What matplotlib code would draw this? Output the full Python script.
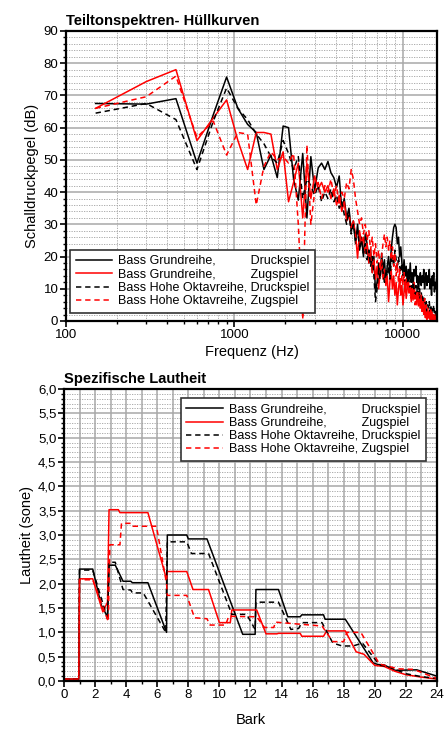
import numpy as np
from matplotlib import pyplot as plt
from matplotlib.ticker import FixedLocator, MultipleLocator, LogLocator, NullFormatter, FuncFormatter

plt.rcParams['font.family'] = ['Liberation Sans', 'DejaVu Sans']

# Teiltonspektren: Pegel der Teiltöne (Grundton 150 Hz, Teiltöne 1..106)
f0 = 150
teilton = np.arange(1, 107)
freq = f0 * teilton

grund_druck = [67.5, 67.3, 69, 49, 64, 75.7, 66, 61, 58.5, 47,
               51.5, 44.5, 60.5, 60, 44, 37.5, 52, 32, 51, 40.5,
               47.5, 49, 47, 49.5, 46, 44.5, 41.5, 45, 34.5, 38,
               32, 35, 28, 31, 24, 30, 22, 26, 20, 27,
               24, 18, 22, 15, 20, 9, 12, 18, 14, 21,
               16, 19, 12, 17, 20, 14, 22, 26, 29, 30,
               29, 24, 26, 20, 23, 18, 15, 19, 14, 17,
               12, 16, 13, 18, 12, 15, 11, 16, 14, 17,
               12, 14, 10, 13, 15, 11, 14, 12, 16, 10,
               13, 15, 11, 14, 12, 16, 10, 13, 8, 14,
               11, 15, 9, 12, 10, 13]
grund_zug = [66, 74.3, 78, 56, 63, 68.6, 56, 47, 58.5, 58.5,
             58, 47, 52.5, 37, 43, 49, 32, 49, 38, 45,
             41, 43, 40, 42, 38, 41, 36, 39, 34, 37,
             31, 33, 29, 31, 27, 19.5, 28, 24, 26, 21,
             24, 18, 22, 15, 19, 13, 17, 10, 15, 19,
             13, 16, 11, 14, 6, 12, 16, 10, 14, 8,
             12, 5, 10, 13, 8, 11, 5, 9, 12, 7,
             10, 13, 9, 11, 6, 10, 8, 12, 7, 9,
             5, 8, 6, 9, 4, 7, 3, 6, 2, 4,
             1, 3, 0.5, 2, 1, 3, 0.5, 2, 0.5, 1,
             0.5, 2, 0.5, 1, 0.5, 1]
oktav_druck = [64.5, 67.5, 62.5, 47, 62, 72.3, 66, 62.5, 58, 55,
               51, 49, 56, 52, 47, 51, 38, 44, 42, 39,
               42, 37, 40, 38, 41, 37, 39, 35, 37, 33,
               30, 34, 27, 30, 25, 28, 23, 25, 21, 24,
               19, 22, 17, 20, 14, 6, 10, 16, 13, 18,
               15, 12, 16, 14, 17, 13, 18, 20, 17, 22,
               19, 16, 20, 17, 15, 18, 14, 16, 12, 15,
               11, 14, 12, 10, 13, 9, 12, 10, 8, 11,
               9, 12, 8, 10, 7, 9, 6, 8, 5, 7,
               4, 6, 3, 5, 4, 6, 3, 5, 2, 4,
               3, 5, 2, 3, 1, 2]
oktav_zug = [66, 69.6, 76, 57, 62, 51.5, 58.5, 58, 36, 48,
             52.5, 50, 51, 49, 52, 30, 0.5, 54.6, 30, 40,
             43, 38, 42, 40, 44, 39, 42, 36, 40, 38,
             43, 41, 47, 44, 38, 34, 30, 32, 27, 30,
             25, 28, 22, 26, 20, 24, 18, 22, 16, 20,
             24, 27, 23, 26, 22, 25, 19, 23, 17, 21,
             14, 18, 12, 16, 10, 14, 11, 15, 9, 13,
             10, 12, 8, 11, 7, 10, 6, 9, 5, 8,
             6, 9, 4, 7, 5, 8, 3, 6, 4, 7,
             3, 5, 2, 4, 1, 3, 2, 4, 1, 3,
             1, 2, 0.5, 2, 1, 3]

# Spezifische Lautheit (Bark, sone) - Eckpunkte
bark_gd = [0, 0.95, 1.0, 1.85, 2.4, 2.8, 2.9, 3.3, 3.8, 4.3, 4.4, 5.4, 6.6, 6.65, 7.9, 8.0, 9.2, 11.5, 12.3, 12.35,
           13.8, 14.4, 15.2, 15.3, 16.7, 16.8, 18.1, 19.9, 20.2, 20.6, 21.3, 22.7, 24]
sone_gd = [0.04, 0.04, 2.3, 2.3, 1.56, 1.32, 2.38, 2.38, 2.05, 2.05, 2.02, 2.02, 1.0, 3.0, 3.0, 2.92, 2.92, 0.96, 0.96, 1.88,
           1.88, 1.32, 1.32, 1.36, 1.36, 1.27, 1.27, 0.37, 0.34, 0.33, 0.22, 0.23, 0.1]
bark_gz = [0, 0.95, 1.0, 1.85, 2.5, 2.8, 2.9, 3.5, 3.6, 5.4, 6.6, 6.65, 7.9, 8.3, 9.3, 10.0, 10.7, 10.8, 12.4, 13.0,
           13.7, 13.8, 15.2, 15.3, 16.7, 16.9, 18.1, 18.8, 19.3, 20.0, 20.6, 21.3, 22.0, 23.0, 24]
sone_gz = [0.04, 0.04, 2.1, 2.1, 1.42, 1.62, 3.52, 3.52, 3.46, 3.46, 2.09, 2.25, 2.25, 1.88, 1.88, 1.2, 1.2, 1.46, 1.46, 0.97,
           0.97, 0.98, 0.98, 0.92, 0.92, 1.03, 1.03, 0.6, 0.55, 0.32, 0.3, 0.2, 0.13, 0.08, 0.04]
bark_od = [0, 0.95, 1.0, 1.85, 2.8, 2.9, 3.3, 3.8, 4.3, 4.4, 5.1, 6.55, 6.65, 7.9, 8.2, 9.3, 10.8, 11.75, 12.3, 12.35,
           13.8, 14.6, 15.1, 15.3, 16.6, 17.3, 17.9, 18.6, 19.2, 20.3, 21.0, 22.0, 23.0, 24]
sone_od = [0.04, 0.04, 2.28, 2.28, 1.28, 2.44, 2.44, 1.88, 1.87, 1.81, 1.81, 1.0, 2.86, 2.86, 2.62, 2.62, 1.37, 1.37, 1.06, 1.62,
           1.62, 1.06, 1.08, 1.2, 1.2, 0.78, 0.72, 0.72, 0.78, 0.33, 0.28, 0.15, 0.09, 0.05]
bark_oz = [0, 0.95, 1.0, 1.85, 2.85, 2.95, 3.6, 3.7, 4.35, 4.45, 5.95, 6.6, 6.65, 7.9, 8.4, 9.2, 9.4, 10.4, 10.6, 12.4,
           12.9, 13.5, 13.6, 16.6, 17.3, 18.0, 18.2, 19.1, 20.3, 21.5, 22.5, 24]
sone_oz = [0.04, 0.04, 2.08, 2.08, 1.22, 2.8, 2.8, 3.24, 3.24, 3.18, 3.18, 2.0, 1.76, 1.76, 1.3, 1.28, 1.15, 1.15, 1.33, 1.32,
           1.1, 1.1, 1.21, 1.13, 0.81, 0.81, 1.0, 1.0, 0.35, 0.25, 0.24, 0.05]

labels = ['Bass Grundreihe,          Druckspiel',
          'Bass Grundreihe,          Zugspiel',
          'Bass Hohe Oktavreihe, Druckspiel',
          'Bass Hohe Oktavreihe, Zugspiel']

dash = (0, (3.5, 2.5))
lw = 1.1


def style_axes(ax):
    for s in ax.spines.values():
        s.set_linewidth(1.6)
    ax.grid(which='major', color='#a8a8a8', linewidth=1.1, linestyle='-')
    ax.grid(which='minor', color='#a0a0a0', linewidth=0.6, linestyle=(0, (1.5, 1.5)))
    ax.set_axisbelow(True)
    ax.tick_params(which='major', direction='out', length=4, width=1.2, labelsize=9.5, pad=1.5)
    ax.tick_params(which='minor', direction='out', length=2.2, width=1.0)


def legende(ax, **kw):
    leg = ax.legend(borderaxespad=0, fontsize=9, fancybox=False, framealpha=1,
                    edgecolor='#333333', handlelength=2.9, labelspacing=0.1,
                    borderpad=0.45, handletextpad=0.5, **kw)
    leg.get_frame().set_linewidth(1.2)
    return leg


fig = plt.figure(figsize=(4.44, 7.29), dpi=100)

# oberes Diagramm
ax1 = fig.add_axes([0.1486, 0.5597, 0.8356, 0.3978])
ax1.plot(freq, grund_druck, color='black', linewidth=lw, label=labels[0])
ax1.plot(freq, grund_zug, color='red', linewidth=lw, label=labels[1])
ax1.plot(freq, oktav_druck, color='black', linewidth=lw, linestyle=dash, label=labels[2])
ax1.plot(freq, oktav_zug, color='red', linewidth=lw, linestyle=dash, label=labels[3])
ax1.set_xscale('log')
ax1.set_xlim(100, 16000)
ax1.set_ylim(0, 90)
ax1.xaxis.set_major_locator(FixedLocator([100, 1000, 10000]))
ax1.xaxis.set_major_formatter(FuncFormatter(lambda v, p: '%d' % v))
ax1.xaxis.set_minor_locator(LogLocator(subs=range(2, 10)))
ax1.xaxis.set_minor_formatter(NullFormatter())
ax1.yaxis.set_major_locator(MultipleLocator(10))
ax1.yaxis.set_minor_locator(MultipleLocator(2))
style_axes(ax1)
ax1.set_xlabel('Frequenz (Hz)', fontsize=10.5, labelpad=3)
ax1.set_ylabel('Schalldruckpegel (dB)', fontsize=10.5, labelpad=3)
ax1.set_title('Teiltonspektren- Hüllkurven', fontsize=10.6, fontweight='bold', loc='left', pad=4)
legende(ax1, loc='lower left', bbox_to_anchor=(0.011, 0.028))

# unteres Diagramm
ax2 = fig.add_axes([0.1441, 0.0658, 0.8401, 0.4006])
ax2.plot(bark_gd, sone_gd, color='black', linewidth=lw, label=labels[0])
ax2.plot(bark_gz, sone_gz, color='red', linewidth=lw, label=labels[1])
ax2.plot(bark_od, sone_od, color='black', linewidth=lw, linestyle=dash, label=labels[2])
ax2.plot(bark_oz, sone_oz, color='red', linewidth=lw, linestyle=dash, label=labels[3])
ax2.set_xlim(0, 24)
ax2.set_ylim(0, 6)
ax2.xaxis.set_major_locator(MultipleLocator(2))
ax2.xaxis.set_minor_locator(MultipleLocator(1))
ax2.yaxis.set_major_locator(MultipleLocator(0.5))
ax2.yaxis.set_minor_locator(MultipleLocator(0.1))
ax2.yaxis.set_major_formatter(FuncFormatter(lambda v, p: ('%.1f' % v).replace('.', ',')))
style_axes(ax2)
ax2.grid(which='minor', axis='x', color='#a8a8a8', linewidth=1.1, linestyle='-')
ax2.set_xlabel('Bark', fontsize=10.5, labelpad=9)
ax2.set_ylabel('Lautheit (sone)', fontsize=10.5, labelpad=3)
ax2.set_title('Spezifische Lautheit', fontsize=10.6, fontweight='bold', loc='left', pad=4)
legende(ax2, loc='upper right', bbox_to_anchor=(0.9705, 0.969))

plt.savefig('out.png', dpi=100)
